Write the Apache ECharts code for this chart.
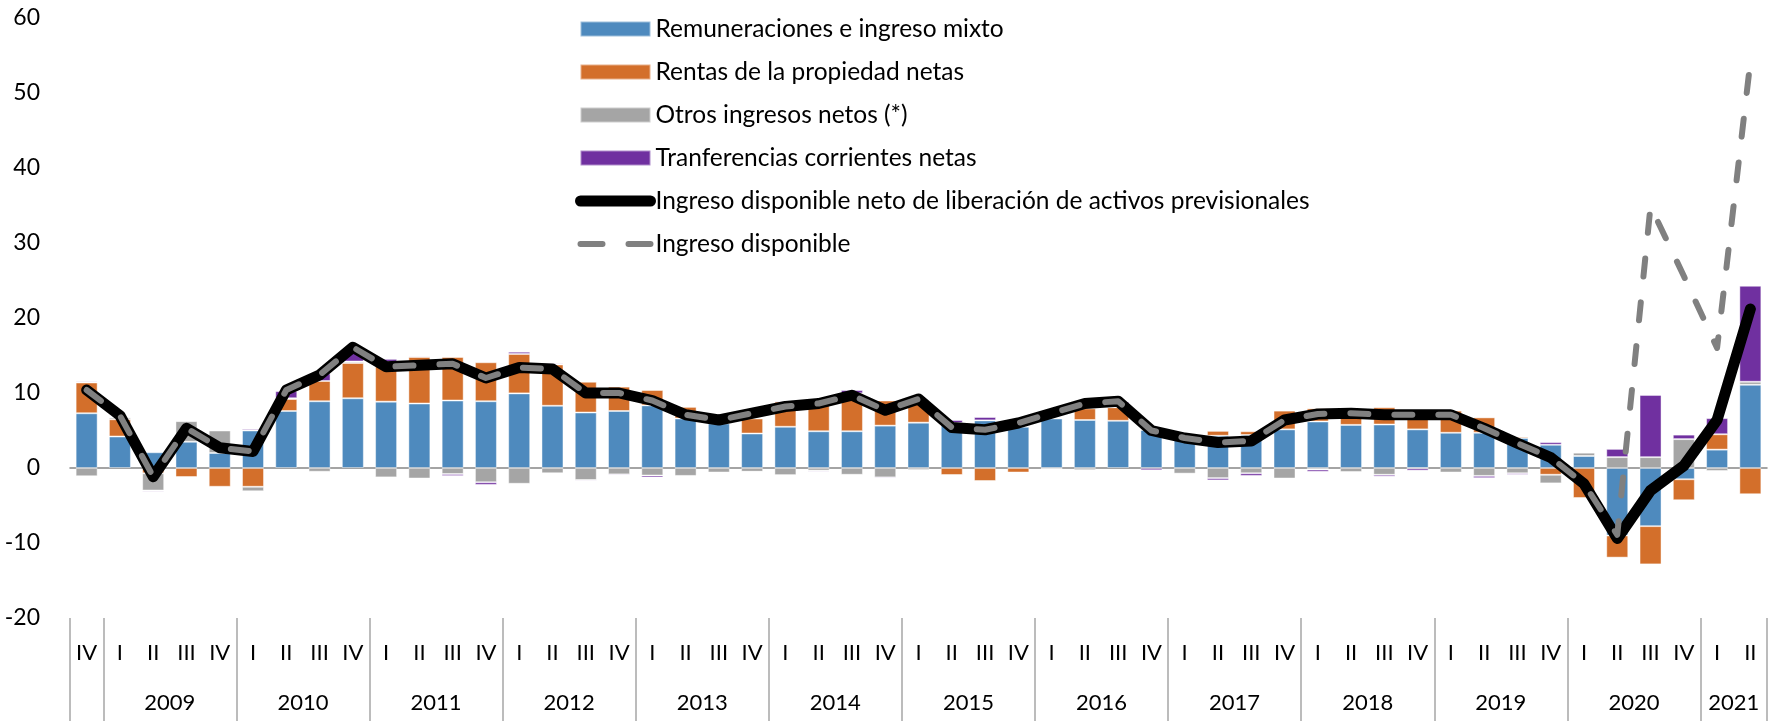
<!DOCTYPE html>
<html>
<head>
<meta charset="utf-8">
<script src="https://cdn.jsdelivr.net/npm/echarts@6/dist/echarts.min.js"></script>
<style>
  html, body { margin: 0; padding: 0; background: #fff; }
  #main { width: 1769px; height: 721px; }
</style>
</head>
<body>
<div id="main"></div>
<script>
// trimestres 2008 IV - 2021 II
var quarters = ['IV',
  'I', 'II', 'III', 'IV', 'I', 'II', 'III', 'IV', 'I', 'II', 'III', 'IV',
  'I', 'II', 'III', 'IV', 'I', 'II', 'III', 'IV', 'I', 'II', 'III', 'IV',
  'I', 'II', 'III', 'IV', 'I', 'II', 'III', 'IV', 'I', 'II', 'III', 'IV',
  'I', 'II', 'III', 'IV', 'I', 'II', 'III', 'IV', 'I', 'II', 'III', 'IV',
  'I', 'II']
var years = ['2009', '2010', '2011', '2012', '2013', '2014', '2015', '2016',
  '2017', '2018', '2019', '2020', '2021']

var remuneraciones = [7.3, 4.2, 2.1, 3.5, 2.0, 5.0, 7.6, 8.9, 9.3, 8.85, 8.6, 9.0, 8.9,
  9.95, 8.3, 7.4, 7.6, 8.35, 6.6, 5.95, 4.6, 5.5, 4.9, 4.9, 5.65,
  6.05, 6.0, 6.35, 5.5, 6.6, 6.4, 6.3, 5.1, 4.3, 4.3, 4.4, 5.15,
  6.2, 5.75, 5.8, 5.15, 4.7, 4.7, 4.0, 3.1, 1.6, -9.0, -7.75, -1.5,
  2.45, 11.1]
var rentas = [4.1, 2.3, -0.7, -1.2, -2.5, -2.5, 1.6, 2.7, 4.7, 5.3, 6.2, 5.8, 5.2,
  5.25, 5.5, 4.1, 3.25, 2.05, 1.55, 0.1, 2.0, 3.35, 4.1, 5.05, 3.35,
  3.0, -0.95, -1.75, -0.6, 0, 1.55, 1.8, 0, 0, 0.65, 0.5, 2.5,
  1.75, 1.1, 2.3, 1.45, 2.95, 2.05, 0.2, -0.9, -4.0, -2.95, -5.1, -2.8,
  2.05, -3.5]
var otros = [-1.1, 0.25, -2.3, 2.75, 3.0, -0.6, 0.1, -0.5, 0.2, -1.25, -1.4, -0.8, -1.9,
  -2.1, -0.7, -1.6, -0.85, -1.0, -1.05, -0.6, -0.5, -0.95, -0.35, -0.9, -1.25,
  -0.27, 0, 0, 0, -0.1, -0.3, 0, 0, -0.75, -1.35, -0.7, -1.4,
  -0.2, -0.55, -0.9, -0.05, -0.6, -1.05, -0.7, -1.15, 0.45, 1.45, 1.45, 3.85,
  -0.4, 0.4]
var transferencias = [0.15, 0.05, -0.15, 0.1, 0.1, 0.2, 0.95, 1.0, 1.5, 0.4, 0.15, -0.27, -0.35,
  0.3, 0.15, -0.15, -0.15, -0.27, 0.1, 0, 0, 0.15, -0.15, 0.45, -0.15,
  0.15, 0.4, 0.45, 0, -0.1, 0, 0.75, -0.3, 0.25, -0.3, -0.35, 0.1,
  -0.3, 0, -0.25, -0.3, 0.1, -0.3, -0.2, 0.35, 0, 1.1, 8.3, 0.6,
  2.15, 12.8]
var ingresoNeto = [10.4, 7.0, -1.15, 5.3, 2.7, 2.2, 10.4, 12.4, 16.1, 13.5, 13.7, 13.9, 12.0,
  13.4, 13.2, 10.0, 10.0, 9.0, 7.1, 6.4, 7.3, 8.2, 8.6, 9.7, 7.7,
  9.2, 5.4, 5.1, 6.0, 7.3, 8.6, 8.9, 5.0, 4.0, 3.4, 3.6, 6.4,
  7.2, 7.3, 7.1, 7.1, 7.1, 5.3, 3.3, 1.4, -2.1, -9.4, -3.0, 0.3,
  6.4, 21.2]
var ingresoDisp = [10.4, 7.0, -1.15, 5.3, 2.7, 2.2, 10.4, 12.4, 16.1, 13.5, 13.7, 13.9, 12.0,
  13.4, 13.2, 10.0, 10.0, 9.0, 7.1, 6.4, 7.3, 8.2, 8.6, 9.7, 7.7,
  9.2, 5.4, 5.1, 6.0, 7.3, 8.6, 8.9, 5.0, 4.0, 3.4, 3.6, 6.4,
  7.2, 7.3, 7.1, 7.1, 7.1, 5.3, 3.3, 1.4, -2.1, -8.9, 34.9, 25.6,
  16.0, 54.2]

// limites de cada año en el eje (un nuevo año empieza en 'I')
var limites = [-0.5]
quarters.forEach(function(q, i) {
  if (q === 'I') limites.push(i - 0.5)
})
limites.push(quarters.length - 0.5)
var centros = []
for (var k = 1; k < limites.length - 1; k++) {
  centros.push((limites[k] + limites[k + 1]) / 2)
}

var fuente = 'Lato'
var chart = echarts.init(document.getElementById('main'))

function barra(name, data, color) {
  return {
    name: name,
    type: 'bar',
    stack: 'total',
    barWidth: 22,
    data: data,
    itemStyle: {
      color: color,
      borderColor: 'rgba(255,255,255,0.45)',
      borderWidth: 1
    }
  }
}

var sinSimbolo = { color: 'rgba(0,0,0,0)', borderWidth: 0 }

var option = {
  animation: false,
  grid: { left: 70, right: 2, top: 18, bottom: 103 },
  legend: {
    orient: 'vertical',
    left: 575,
    top: 16,
    padding: 0,
    itemWidth: 70,
    itemHeight: 15,
    itemGap: 17,
    textStyle: { fontFamily: fuente, fontSize: 24.5, color: '#000', lineHeight: 26 },
    data: [
      { name: 'Remuneraciones e ingreso mixto', icon: 'rect' },
      { name: 'Rentas de la propiedad netas', icon: 'rect' },
      { name: 'Otros ingresos netos (*)', icon: 'rect' },
      { name: 'Tranferencias corrientes netas', icon: 'rect' },
      {
        name: 'Ingreso disponible neto de liberación de activos previsionales',
        itemStyle: sinSimbolo,
        lineStyle: { color: '#000', width: 11, cap: 'round' }
      },
      {
        name: 'Ingreso disponible',
        itemStyle: sinSimbolo,
        lineStyle: { color: '#808080', width: 6, type: [22, 26], cap: 'round' }
      }
    ]
  },
  xAxis: [
    {
      type: 'category',
      data: quarters,
      position: 'bottom',
      axisLine: { show: false, onZero: false },
      axisTick: { show: false },
      axisLabel: { interval: 0, margin: 24, fontFamily: fuente, fontSize: 22, color: '#000' }
    },
    {
      type: 'value',
      min: -0.5,
      max: quarters.length - 0.5,
      position: 'bottom',
      axisLine: { show: false, onZero: false },
      splitLine: { show: false },
      axisTick: {
        show: true,
        customValues: limites,
        length: 103,
        lineStyle: { color: '#A6A6A6', width: 1.5 }
      },
      axisLabel: {
        customValues: centros,
        margin: 74,
        fontFamily: fuente,
        fontSize: 22,
        color: '#000',
        formatter: function(v) {
          return years[centros.indexOf(v)]
        }
      }
    },
    {
      // linea del cero
      type: 'category',
      data: quarters,
      axisLine: { show: true, onZero: true, lineStyle: { color: '#868686', width: 1.5 } },
      axisTick: { show: false },
      axisLabel: { show: false }
    }
  ],
  yAxis: {
    type: 'value',
    min: -20,
    max: 60,
    interval: 10,
    axisLine: { show: false },
    axisTick: { show: false },
    splitLine: { show: false },
    axisLabel: { margin: 30, fontFamily: fuente, fontSize: 23, color: '#000' }
  },
  series: [
    barra('Remuneraciones e ingreso mixto', remuneraciones, '#4E8ABE'),
    barra('Rentas de la propiedad netas', rentas, '#D36F2B'),
    barra('Otros ingresos netos (*)', otros, '#A5A5A5'),
    barra('Tranferencias corrientes netas', transferencias, '#7030A0'),
    {
      name: 'Ingreso disponible neto de liberación de activos previsionales',
      type: 'line',
      data: ingresoNeto,
      symbol: 'none',
      z: 5,
      itemStyle: { color: '#000' },
      lineStyle: { color: '#000', width: 11, cap: 'round', join: 'round' }
    },
    {
      name: 'Ingreso disponible',
      type: 'line',
      data: ingresoDisp,
      symbol: 'none',
      z: 6,
      itemStyle: { color: '#808080' },
      lineStyle: { color: '#808080', width: 6, type: [18, 26], cap: 'round', join: 'round' }
    }
  ]
}
chart.setOption(option)
</script>
</body>
</html>
